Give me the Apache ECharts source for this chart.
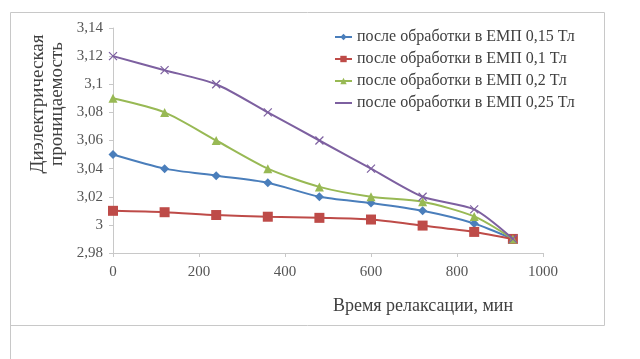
<!DOCTYPE html>
<html><head><meta charset="utf-8">
<script src="https://cdn.jsdelivr.net/npm/echarts@6/dist/echarts.min.js"></script>
<style>html,body{margin:0;padding:0;background:#fff}#c{width:640px;height:359px}</style>
</head><body><div id="c"></div>
<script>
var times = [0, 120, 240, 360, 480, 600, 720, 840, 930];
var seriesNames = ['после обработки в ЕМП 0,15 Тл', 'после обработки в ЕМП 0,1 Тл', 'после обработки в ЕМП 0,2 Тл', 'после обработки в ЕМП 0,25 Тл'];
var s015 = [3.05, 3.04, 3.035, 3.03, 3.02, 3.0155, 3.01, 3.001, 2.99];
var s010 = [3.01, 3.009, 3.007, 3.0058, 3.005, 3.0038, 2.9995, 2.995, 2.99];
var s020 = [3.09, 3.08, 3.06, 3.04, 3.027, 3.02, 3.0165, 3.006, 2.99];
var s025 = [3.12, 3.11, 3.10, 3.08, 3.06, 3.04, 3.02, 3.011, 2.99];
var yTicks = ['2,98', '3', '3,02', '3,04', '3,06', '3,08', '3,1', '3,12', '3,14'];
var xTicks = ['0', '200', '400', '600', '800', '1000'];
var yTitle = ['Диэлектрическая', 'проницаемость'];
var xTitle = 'Время релаксации, мин';

var colors = ['#4A7EBB', '#BE4B48', '#98B954', '#7D60A0'];
var xMark = 'path://M0,0 L10,10 M10,0 L0,10';
var symbols = ['diamond', 'rect', 'triangle', xMark];
var sizes = [9, 10, 9, 8];
var data = [s015, s010, s020, s025];
var font = '"Liberation Serif", "DejaVu Serif", serif';

function pairs(arr){ return times.map(function(t,i){ return [t, arr[i]]; }); }

var series = data.map(function(arr, k){
  return {
    name: seriesNames[k], type: 'line', smooth: 0.25,
    data: pairs(arr), symbol: symbols[k], symbolSize: sizes[k],
    lineStyle: {color: colors[k], width: 2},
    itemStyle: k === 3 ? {color: colors[k], borderColor: colors[k], borderWidth: 1.2} : {color: colors[k], borderColor: colors[k], borderWidth: 0},
    emphasis: {disabled: true}, animation: false, z: 2 + k
  };
});

var chart = echarts.init(document.getElementById('c'));
chart.setOption({
  backgroundColor: '#ffffff',
  animation: false,
  grid: {left: 113, right: 97, top: 28, bottom: 106},
  legend: {
    orient: 'vertical', left: 329, top: 24, itemGap: 6,
    itemWidth: 17, itemHeight: 8,
    textStyle: {fontFamily: font, fontSize: 16, color: '#404040'},
    data: seriesNames.map(function(n, k){
      return k === 3 ? {name: n, itemStyle: {opacity: 0}} : {name: n};
    })
  },
  xAxis: {
    type: 'value', min: 0, max: 1000, interval: 200,
    axisLine: {show: true, lineStyle: {color: '#c8c8c8'}},
    axisTick: {show: true, length: 4, lineStyle: {color: '#c8c8c8'}},
    splitLine: {show: false},
    axisLabel: {fontFamily: font, fontSize: 15, color: '#555', margin: 12,
      formatter: function(v){ return xTicks[Math.round(v/200)]; }}
  },
  yAxis: {
    type: 'value', min: 2.98, max: 3.14, interval: 0.02,
    axisLine: {show: true, lineStyle: {color: '#c8c8c8'}},
    axisTick: {show: true, length: 4, inside: false, lineStyle: {color: '#c8c8c8'}},
    splitLine: {show: false},
    axisLabel: {fontFamily: font, fontSize: 15, color: '#555', margin: 10,
      formatter: function(v){ return yTicks[Math.round((v-2.98)/0.02)]; }}
  },
  graphic: [
    {type: 'rect', shape: {x: 10.5, y: 12.5, width: 594, height: 313}, style: {fill: 'none', stroke: '#c8c8c8', lineWidth: 1}, silent: true},
    {type: 'line', shape: {x1: 10.5, y1: 325, x2: 10.5, y2: 359}, style: {stroke: '#c8c8c8', lineWidth: 1}, silent: true},
    {type: 'text', x: 38, y: 104, rotation: Math.PI/2, style: {text: yTitle[0], fontFamily: font, fontSize: 19, fill: '#404040', align: 'center', verticalAlign: 'middle'}},
    {type: 'text', x: 57, y: 104, rotation: Math.PI/2, style: {text: yTitle[1], fontFamily: font, fontSize: 19, fill: '#404040', align: 'center', verticalAlign: 'middle'}},
    {type: 'text', x: 423, y: 306, style: {text: xTitle, fontFamily: font, fontSize: 18, fill: '#404040', align: 'center', verticalAlign: 'middle'}}
  ],
  series: series
});
</script></body></html>
